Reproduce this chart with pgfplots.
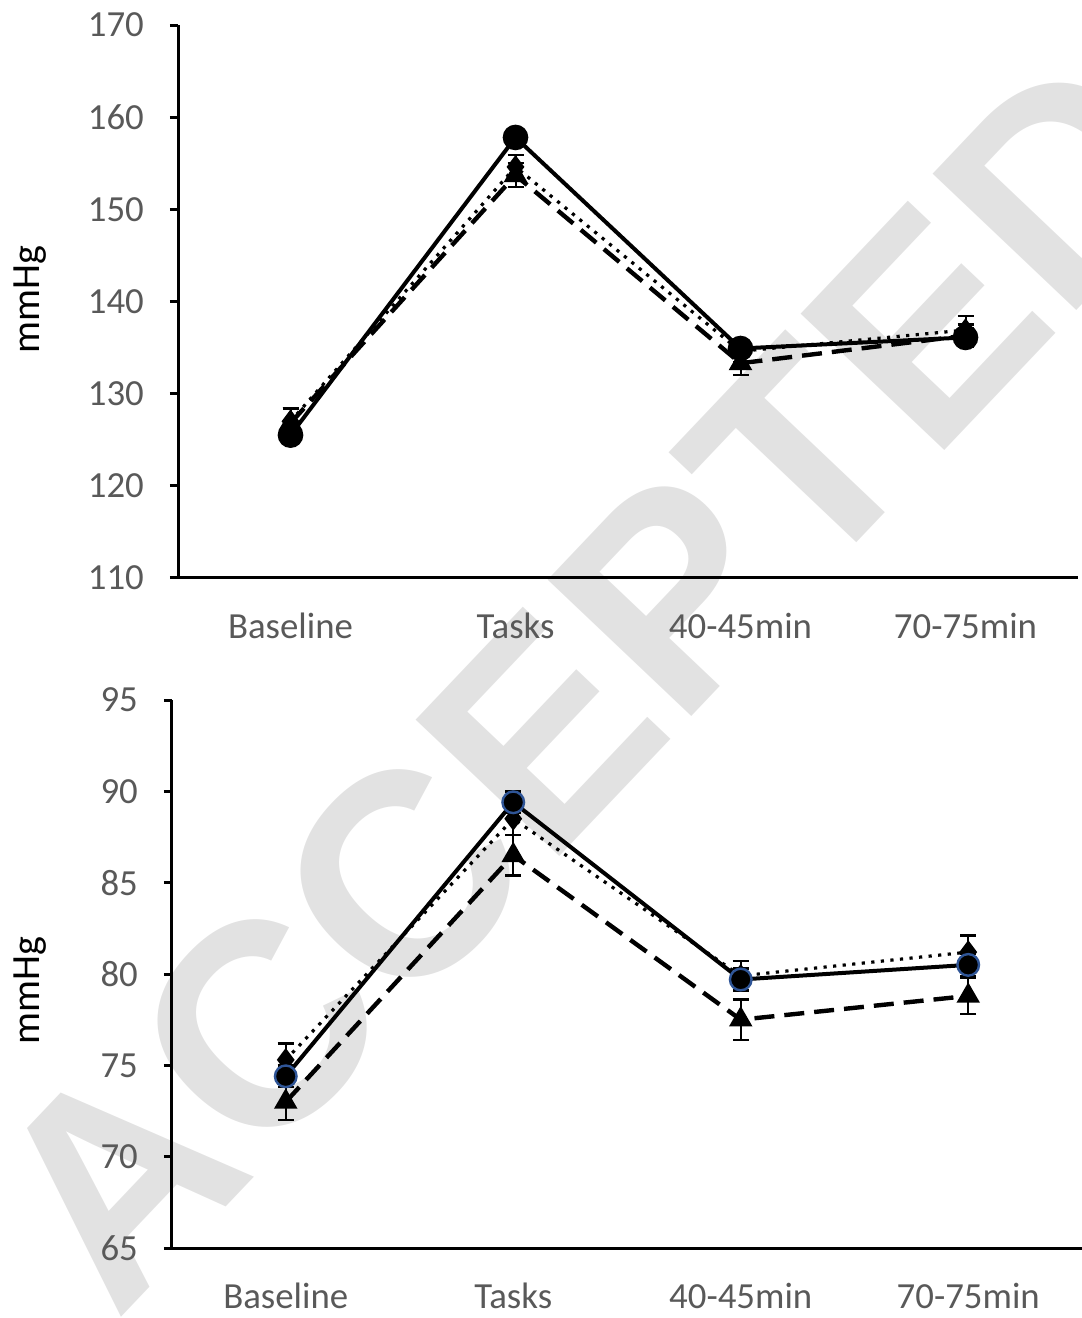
\documentclass[border=0pt]{standalone}
\usepackage{pgfplots}
\pgfplotsset{compat=1.18}
\usepackage{fontspec}
\setmainfont{Carlito}
\newfontfamily\wmfont{Liberation Sans}
\definecolor{ticklab}{HTML}{595959}
\definecolor{wmgray}{HTML}{E2E2E2}
\definecolor{edgeblue}{HTML}{2F5597}
\pgfplotsset{
  mystyle/.style={
    scale only axis,
    axis x line*=bottom, axis y line*=left,
    axis line style={-, line width=0.75pt, black},
    xmin=-0.5, xmax=3.5,
    xtick={0,1,2,3},
    xticklabels={Baseline,Tasks,40-45min,70-75min},
    x tick style={draw=none},
    y tick style={line width=0.75pt, black},
    tick align=outside,
    major tick length=2pt,
    tick label style={font=\fontsize{9.2}{11}\selectfont, text=ticklab},
    yticklabel style={xshift=-3pt},
    xticklabel style={yshift=-3.3pt},
    /pgf/number format/assume math mode=true,
    label style={font=\fontsize{9.2}{11}\selectfont, text=ticklab},
    clip=false,
    error bars/error bar style={line width=0.5pt, black, solid},
    error bars/error mark options={rotate=90, mark size=2pt, line width=0.6pt, black, solid},
  },
  ebars/.style={error bars/y dir=both, error bars/y explicit},
  solidser/.style={black, line width=1pt, solid, mark=*, mark size=2.7pt,
    mark options={solid, fill=black}, ebars},
  dashser/.style={black, line width=1.1pt, dash pattern=on 5pt off 2.5pt, mark=triangle*, mark size=2.3pt,
    mark options={solid, fill=black}, ebars},
  dotser/.style={black, line width=0.8pt, dash pattern=on 0.8pt off 1.6pt, mark=diamond*, mark size=2.3pt,
    mark options={solid, fill=black}, ebars},
}
\begin{document}
\begin{tikzpicture}
\path[use as bounding box] (0,0) rectangle (270.5pt,-329.5pt);
\node[rotate=46.5, text=wmgray, font=\wmfont\bfseries\fontsize{72}{72}\selectfont, inner sep=0pt] at (147.5pt,-170pt) {ACCEPTED};

\begin{axis}[mystyle,
  at={(44.5pt,-6.25pt)}, anchor=north west,
  width=225pt, height=138.25pt,
  ymin=110, ymax=170, ytick={110,120,...,170},
  ylabel={mmHg},
  every axis y label/.style={at={(axis description cs:-0.164,0.503)}, rotate=90, anchor=center},
]
\addplot+[dashser] coordinates {(0,126.8) +- (0,1.6) (1,153.7) +- (0,1.3) (2,133.3) +- (0,1.3) (3,136.3) +- (0,1.2)};
\addplot+[dotser] coordinates {(0,127.0) +- (0,1.4) (1,154.6) +- (0,1.3) (2,134.6) +- (0,1.2) (3,136.9) +- (0,1.5)};
\addplot+[solidser] coordinates {(0,125.5) +- (0,0.8) (1,157.8) +- (0,0.8) (2,134.9) +- (0,0.8) (3,136.1) +- (0,1.0)};
\end{axis}

\begin{axis}[mystyle,
  at={(43pt,-175pt)}, anchor=north west,
  width=227.5pt, height=137pt,
  ymin=65, ymax=95, ytick={65,70,...,95},
  ylabel={mmHg},
  every axis y label/.style={at={(axis description cs:-0.156,0.47)}, rotate=90, anchor=center},
]
\addplot+[dashser] coordinates {(0,73.0) +- (0,1.0) (1,86.5) +- (0,1.1) (2,77.5) +- (0,1.1) (3,78.8) +- (0,1.0)};
\addplot+[dotser] coordinates {(0,75.3) +- (0,0.9) (1,88.5) +- (0,0.9) (2,79.9) +- (0,0.8) (3,81.2) +- (0,0.9)};
\addplot+[solidser, mark options={solid, fill=black, draw=edgeblue, line width=0.6pt}] coordinates {(0,74.4) +- (0,0.6) (1,89.4) +- (0,0.6) (2,79.7) +- (0,0.6) (3,80.5) +- (0,0.6)};
\end{axis}
\end{tikzpicture}
\end{document}
